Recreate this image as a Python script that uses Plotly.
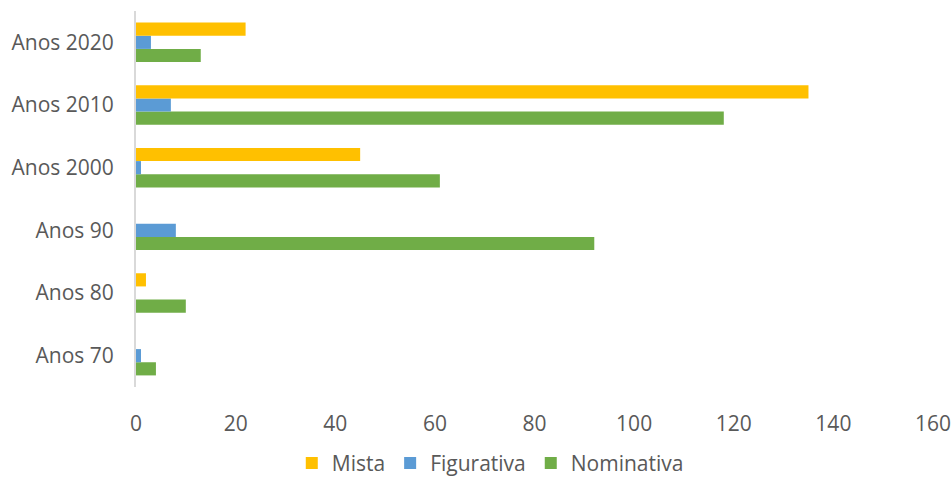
import plotly.graph_objects as go

decades = ["Anos 70", "Anos 80", "Anos 90", "Anos 2000", "Anos 2010", "Anos 2020"]
mista = [0, 2, 0, 45, 135, 22]
figurativa = [1, 0, 8, 1, 7, 3]
nominativa = [4, 10, 92, 61, 118, 13]
x_ticks = [0, 20, 40, 60, 80, 100, 120, 140, 160]

colors = {"Mista": "#FFC000", "Figurativa": "#5B9BD5", "Nominativa": "#70AD47"}
font_family = "Open Sans, Lato, sans-serif"
text_color = "#595959"

fig = go.Figure()
# Horizontal grouped bars: first trace sits lowest in each group
for name, values in [("Nominativa", nominativa), ("Figurativa", figurativa), ("Mista", mista)]:
    fig.add_trace(go.Bar(
        y=decades, x=values, name=name, orientation="h",
        marker=dict(color=colors[name], line=dict(width=0)),
    ))

fig.update_layout(
    width=952, height=479,
    barmode="group", bargap=0.37, bargroupgap=0,
    plot_bgcolor="white", paper_bgcolor="white",
    margin=dict(l=136, r=19, t=11, b=92, autoexpand=False),
    font=dict(family=font_family, size=21, color=text_color),
    xaxis=dict(range=[0, 160], tickvals=x_ticks, showgrid=False, zeroline=False,
               showline=False, ticks="", ticklabelstandoff=22, automargin=False,
               tickfont=dict(size=21, color=text_color)),
    yaxis=dict(showgrid=False, zeroline=False, showline=True, linecolor="#D9D9D9",
               linewidth=2, ticks="", ticklabelstandoff=16, automargin=False,
               tickfont=dict(size=21, color=text_color)),
    showlegend=True,
    legend=dict(orientation="h", x=0.515, xanchor="center", xref="container",
                y=-0.203, yanchor="middle", yref="paper", traceorder="reversed",
                font=dict(size=21, color=text_color), itemwidth=30),
)

fig.write_html("out.html")
